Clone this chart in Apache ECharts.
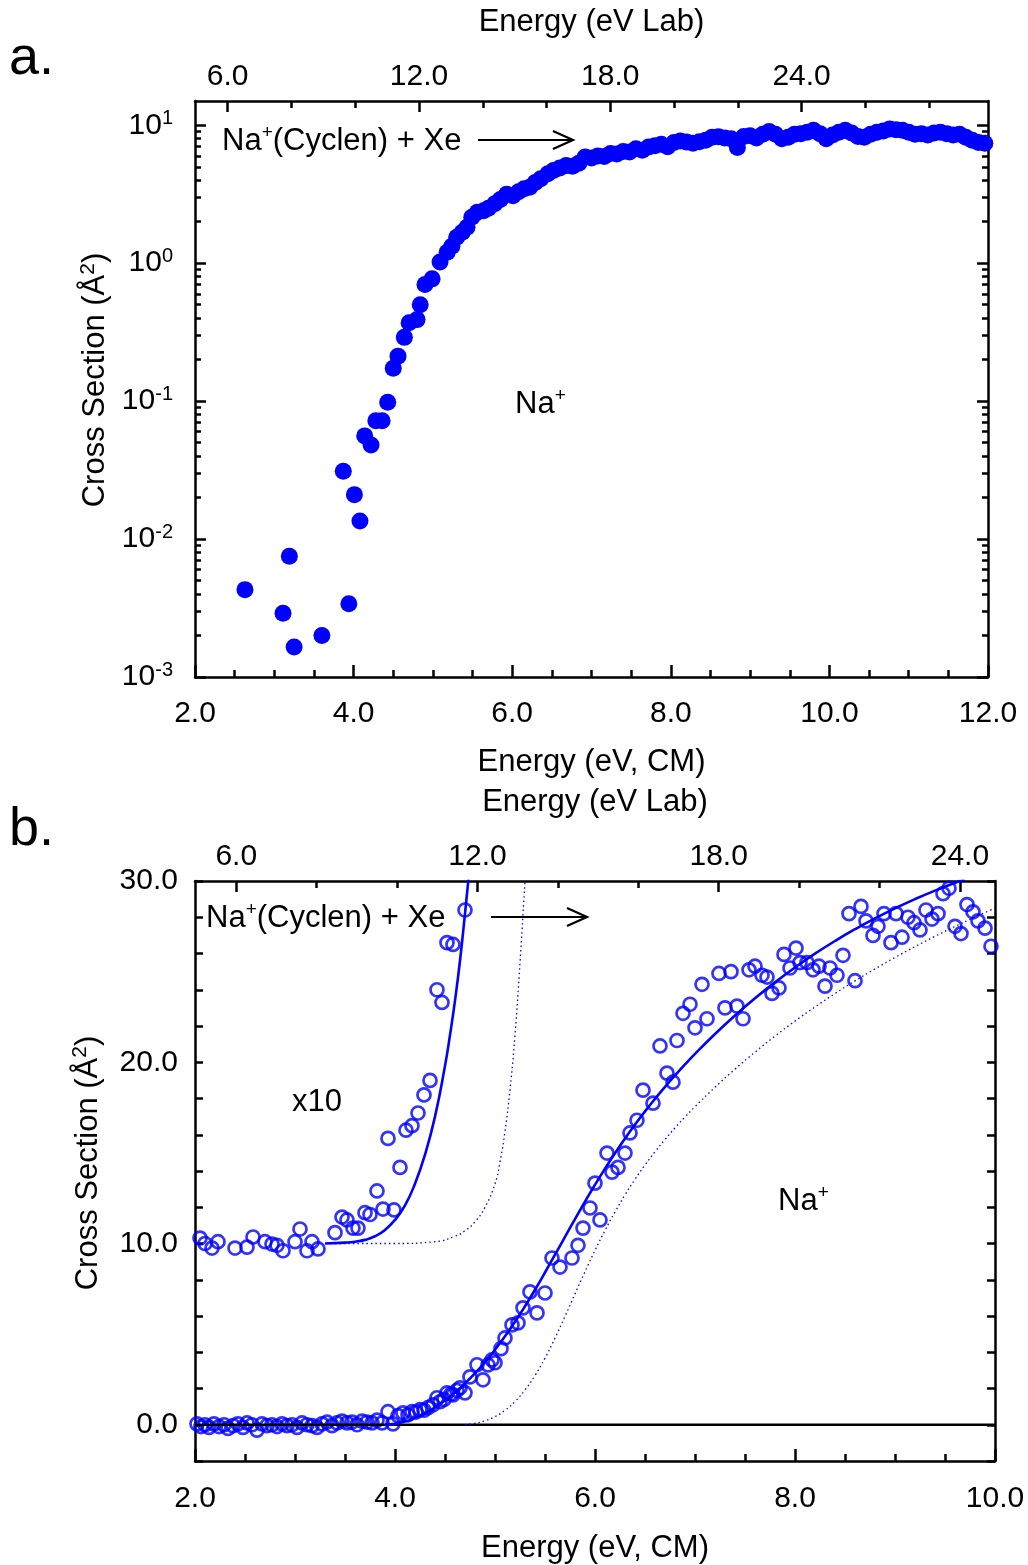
<!DOCTYPE html>
<html>
<head>
<meta charset="utf-8">
<script src="https://cdn.jsdelivr.net/npm/echarts@6/dist/echarts.min.js"></script>
<style>
  html, body { margin: 0; padding: 0; background: #ffffff; }
  #chart { width: 1028px; height: 1565px; }
</style>
</head>
<body>
<div id="chart"></div>
<script>
// Collision-induced dissociation of Na+(cyclen) with Xe: Na+ product cross sections.
const FONT = "'Liberation Sans', Arial, Helvetica, sans-serif";
const BLUE = '#0000ff';

// Lab -> CM energy factor: (m_ion + m_Xe) / m_Xe, Na+(cyclen) = 195.26 u, Xe = 131.29 u
const LAB_PER_CM = (195.26 + 131.29) / 131.29;

// ---------- panel a (log scale) ----------
const cmRangeA = [2, 12];
const sigmaRangeA = [0.001, 15];
const logDecadesA = [-3, -2, -1, 0, 1];
const labMajorTicks = [6, 12, 18, 24];
const labMinorTicksA = [8, 10, 14, 16, 20, 22, 26, 28];

// [E (eV, CM), cross section (Å²)]
const naPlusA = [
  [2.63, 0.0043], [3.11, 0.0029], [3.19, 0.0075], [3.25, 0.00165], [3.60, 0.0020],
  [3.87, 0.031], [3.94, 0.0034], [4.01, 0.021], [4.08, 0.0135], [4.14, 0.056],
  [4.22, 0.048], [4.28, 0.072], [4.36, 0.072], [4.43, 0.098], [4.50, 0.173],
  [4.56, 0.212], [4.64, 0.29], [4.70, 0.37], [4.80, 0.39], [4.84, 0.50],
  [4.90, 0.70], [4.99, 0.77], [5.09, 1.02], [5.18, 1.20], [5.24, 1.33],
  [5.30, 1.54], [5.37, 1.68], [5.43, 1.82], [5.49, 2.15], [5.56, 2.34],
  [5.64, 2.40], [5.70, 2.50], [5.78, 2.70], [5.85, 2.90], [5.93, 3.16],
  [6.01, 3.08], [6.08, 3.30], [6.15, 3.46], [6.22, 3.56], [6.29, 3.85],
  [6.36, 4.10], [6.45, 4.45], [6.52, 4.70], [6.60, 4.90], [6.68, 5.10],
  [6.76, 5.05], [6.84, 5.30], [6.92, 5.90], [7.00, 5.80], [7.08, 6.00],
  [7.16, 5.95], [7.24, 6.25], [7.32, 6.20], [7.40, 6.45], [7.48, 6.40],
  [7.56, 6.75], [7.64, 6.60], [7.72, 6.95], [7.80, 7.10], [7.88, 7.30],
  [7.96, 7.00], [8.04, 7.50], [8.12, 7.70], [8.20, 7.55], [8.28, 7.40],
  [8.36, 7.60], [8.44, 7.80], [8.52, 8.20], [8.60, 8.25], [8.68, 8.10],
  [8.76, 8.00], [8.84, 6.90], [8.92, 8.30], [9.00, 8.40], [9.08, 8.10],
  [9.16, 8.60], [9.24, 9.00], [9.32, 8.60], [9.40, 8.00], [9.48, 8.20],
  [9.56, 8.60], [9.64, 8.70], [9.72, 8.90], [9.80, 9.20], [9.88, 8.70],
  [9.96, 8.00], [10.04, 8.50], [10.12, 8.90], [10.20, 9.20], [10.28, 8.80],
  [10.36, 8.30], [10.44, 8.20], [10.52, 8.60], [10.60, 8.90], [10.68, 9.10],
  [10.76, 9.40], [10.84, 9.30], [10.92, 9.20], [11.00, 8.90], [11.08, 8.60],
  [11.16, 8.70], [11.24, 8.50], [11.32, 8.80], [11.40, 8.90], [11.48, 8.70],
  [11.56, 8.50], [11.64, 8.60], [11.72, 8.20], [11.80, 7.80], [11.88, 7.50],
  [11.96, 7.40]
];

// ---------- panel b (linear scale) ----------
const cmRangeB = [2, 10];
const sigmaRangeB = [-2, 30];
const sigmaLabelsB = [0, 10, 20, 30];
const labMinorTicksB = [8, 10, 14, 16, 20, 22];

const naPlusB = [
  [2.02, 0.05], [2.06, -0.10], [2.10, 0.00], [2.14, -0.15], [2.19, 0.05],
  [2.24, -0.10], [2.29, 0.00], [2.33, -0.20], [2.38, -0.05], [2.43, 0.05],
  [2.48, -0.15], [2.52, 0.10], [2.57, 0.00], [2.62, -0.30], [2.67, 0.05],
  [2.72, -0.05], [2.77, 0.00], [2.82, -0.10], [2.87, 0.05], [2.92, -0.05],
  [2.97, 0.00], [3.02, -0.15], [3.07, 0.10], [3.12, 0.00], [3.17, -0.05],
  [3.22, -0.15], [3.27, 0.05], [3.32, 0.15], [3.37, -0.05], [3.42, 0.10],
  [3.47, 0.20], [3.52, 0.10], [3.57, 0.15], [3.62, 0.00], [3.67, 0.20],
  [3.72, 0.15], [3.77, 0.10], [3.82, 0.25], [3.87, 0.10], [3.93, 0.72],
  [3.98, 0.05], [4.03, 0.50], [4.08, 0.66], [4.13, 0.55], [4.17, 0.72],
  [4.21, 0.70], [4.25, 0.83], [4.29, 0.80], [4.33, 0.94], [4.38, 1.10],
  [4.42, 1.49], [4.45, 1.27], [4.49, 1.40], [4.52, 1.76], [4.56, 1.70],
  [4.58, 1.65], [4.62, 1.90], [4.65, 2.04], [4.70, 1.76], [4.75, 2.64],
  [4.82, 3.31], [4.88, 2.48], [4.93, 3.30], [4.97, 3.58], [5.00, 3.42],
  [5.06, 4.20], [5.10, 4.79], [5.17, 5.51], [5.23, 5.62], [5.28, 6.45],
  [5.35, 7.33], [5.42, 6.17], [5.50, 7.27], [5.57, 9.20], [5.65, 8.70],
  [5.77, 9.20], [5.83, 9.90], [5.88, 10.85], [5.95, 11.96], [6.00, 13.33],
  [6.05, 11.30], [6.12, 14.99], [6.17, 13.94], [6.23, 14.20], [6.30, 14.99],
  [6.35, 16.10], [6.42, 16.80], [6.48, 18.46], [6.58, 17.74], [6.65, 20.90],
  [6.72, 19.40], [6.78, 18.90], [6.82, 21.20], [6.88, 22.70], [6.95, 23.20],
  [7.00, 21.90], [7.07, 24.30], [7.12, 22.40], [7.24, 24.90], [7.30, 23.00],
  [7.36, 25.00], [7.42, 23.10], [7.48, 22.40], [7.54, 25.10], [7.60, 25.30],
  [7.67, 24.80], [7.72, 24.70], [7.77, 23.80], [7.84, 24.10], [7.89, 25.95],
  [7.95, 25.20], [8.01, 26.30], [8.05, 25.50], [8.12, 25.50], [8.18, 25.10],
  [8.24, 25.30], [8.30, 24.20], [8.35, 25.20], [8.42, 24.80], [8.48, 25.90],
  [8.54, 28.20], [8.60, 24.50], [8.66, 28.60], [8.71, 27.80], [8.78, 27.00],
  [8.83, 27.50], [8.89, 28.20], [8.96, 26.60], [9.01, 28.20], [9.07, 26.90],
  [9.13, 28.00], [9.19, 27.70], [9.25, 27.30], [9.31, 28.40], [9.37, 27.90],
  [9.43, 28.20], [9.48, 29.30], [9.54, 29.60], [9.60, 27.50], [9.66, 27.10],
  [9.72, 28.70], [9.78, 28.30], [9.83, 27.80], [9.90, 27.40], [9.96, 26.40]
];

// threshold region expanded ten times, offset to 10
const naPlusB_x10 = [
  [2.05, 10.30], [2.10, 10.00], [2.17, 9.75], [2.23, 10.10], [2.40, 9.75],
  [2.52, 9.80], [2.58, 10.36], [2.70, 10.10], [2.77, 9.97], [2.82, 9.90],
  [2.88, 9.60], [3.00, 10.10], [3.05, 10.80], [3.12, 9.60], [3.17, 10.10],
  [3.23, 9.70], [3.40, 10.60], [3.47, 11.46], [3.52, 11.30], [3.58, 10.85],
  [3.63, 10.85], [3.70, 11.70], [3.75, 11.60], [3.82, 12.90], [3.88, 11.90],
  [3.93, 15.80], [3.99, 11.85], [4.05, 14.20], [4.11, 16.25], [4.17, 16.50],
  [4.23, 17.20], [4.29, 18.20], [4.35, 19.00], [4.42, 24.00], [4.47, 23.30],
  [4.52, 26.60], [4.58, 26.50], [4.70, 28.40]
];

// model cross sections convoluted over the experimental energy distribution
const modelB = [
  [3.90, 0.00], [4.00, 0.05], [4.10, 0.18], [4.20, 0.38], [4.30, 0.64],
  [4.40, 0.96], [4.50, 1.34], [4.60, 1.78], [4.70, 2.28], [4.80, 2.84],
  [4.90, 3.46], [5.00, 4.14], [5.10, 4.88], [5.20, 5.68], [5.30, 6.54],
  [5.40, 7.45], [5.50, 8.40], [5.60, 9.38], [5.70, 10.37], [5.80, 11.35],
  [5.90, 12.31], [6.00, 13.24], [6.10, 14.13], [6.20, 14.98], [6.30, 15.79],
  [6.40, 16.56], [6.50, 17.29], [6.60, 17.98], [6.70, 18.64], [6.80, 19.27],
  [6.90, 19.88], [7.00, 20.46], [7.20, 21.56], [7.40, 22.58], [7.60, 23.53],
  [7.80, 24.41], [8.00, 25.23], [8.20, 25.99], [8.40, 26.69], [8.60, 27.34],
  [8.80, 27.94], [9.00, 28.49], [9.20, 29.00], [9.40, 29.47], [9.60, 29.90],
  [9.70, 30.10]
];
const modelB_x10 = [
  [3.30, 10.00], [3.50, 10.05], [3.60, 10.10], [3.70, 10.20], [3.80, 10.40],
  [3.90, 10.75], [4.00, 11.30], [4.10, 12.10], [4.20, 13.30], [4.30, 14.90],
  [4.40, 17.00], [4.50, 19.80], [4.55, 21.50], [4.60, 23.40], [4.65, 25.60],
  [4.70, 28.20], [4.74, 30.40]
];
// unconvoluted model cross sections (0 K)
const model0K_B = [
  [4.70, 0.00], [4.80, 0.08], [4.90, 0.22], [5.00, 0.45], [5.10, 0.80],
  [5.20, 1.28], [5.30, 1.92], [5.40, 2.72], [5.50, 3.68], [5.60, 4.78],
  [5.70, 5.98], [5.80, 7.22], [5.90, 8.45], [6.00, 9.62], [6.10, 10.72],
  [6.20, 11.74], [6.30, 12.68], [6.40, 13.54], [6.50, 14.33], [6.60, 15.06],
  [6.70, 15.74], [6.80, 16.38], [6.90, 16.98], [7.00, 17.55], [7.20, 18.62],
  [7.40, 19.62], [7.60, 20.56], [7.80, 21.44], [8.00, 22.27], [8.20, 23.05],
  [8.40, 23.79], [8.60, 24.49], [8.80, 25.15], [9.00, 25.78], [9.20, 26.38],
  [9.40, 26.95], [9.60, 27.49], [9.80, 28.01], [10.00, 28.50]
];
const model0K_B_x10 = [
  [3.40, 10.00], [4.00, 10.00], [4.40, 10.10], [4.60, 10.40], [4.70, 10.70],
  [4.80, 11.20], [4.90, 12.00], [5.00, 13.30], [5.05, 14.50], [5.10, 16.20],
  [5.15, 18.50], [5.20, 21.50], [5.25, 25.50], [5.30, 30.00]
];
const zeroLineB = [[2, 0], [10, 0]];

// ---------- shared styles ----------
const BLACK = '#000000';
const lineStyle = { color: BLACK, width: 2.5 };
const boxLine = { show: true, onZero: false, lineStyle: lineStyle };
const noLine = { show: false, onZero: false };
const tickFont = { fontFamily: FONT, fontSize: 30, color: BLACK };
const fmt1 = v => Number(v).toFixed(1);

const nameRich = {
  n: { fontFamily: FONT, fontSize: 31, color: BLACK, lineHeight: 36 },
  s: { fontFamily: FONT, fontSize: 21, color: BLACK, lineHeight: 21, verticalAlign: 'top' }
};
const nameFont = { fontFamily: FONT, fontSize: 31, color: BLACK };
const sigmaName = '{n|Cross Section (Å}{s|2}{n|)}';

// log-spaced minor ticks (2..9 per decade) in log10 units
const logMinorTicksA = [];
for (let n = logDecadesA[0]; n < logDecadesA[logDecadesA.length - 1]; n++) {
  for (let k = 2; k <= 9; k++) logMinorTicksA.push(Math.log10(k) + n);
}
const logMaxA = Math.log10(sigmaRangeA[1]);
const logMinA = Math.log10(sigmaRangeA[0]);

const supRich = {
  b: { fontFamily: FONT, fontSize: 30, color: BLACK, lineHeight: 34 },
  s: { fontFamily: FONT, fontSize: 20, color: BLACK, lineHeight: 20, verticalAlign: 'top' }
};

function tickAxis(dim, grid, pos, min, max, ticks, len, extra) {
  return Object.assign({
    gridIndex: grid, type: 'value', position: pos, min: min, max: max,
    axisLine: noLine,
    axisTick: { show: true, inside: true, length: len, customValues: ticks, lineStyle: lineStyle },
    axisLabel: { show: false },
    splitLine: { show: false }
  }, extra || {});
}

const textRich = {
  n: { fontFamily: FONT, fontSize: 31, lineHeight: 35, fill: BLACK, color: BLACK },
  s: { fontFamily: FONT, fontSize: 19, lineHeight: 19, verticalAlign: 'top', fill: BLACK, color: BLACK }
};

const option = {
  backgroundColor: '#ffffff',
  animation: false,
  textStyle: { fontFamily: FONT },
  grid: [
    { left: 195, top: 101, width: 793, height: 576, outerBoundsMode: 'none', containLabel: false },
    { left: 195, top: 881, width: 800, height: 580, outerBoundsMode: 'none', containLabel: false }
  ],
  xAxis: [
    // 0: panel a, CM energy (bottom)
    {
      gridIndex: 0, type: 'value', position: 'bottom', min: cmRangeA[0], max: cmRangeA[1], interval: 2,
      axisLine: boxLine,
      axisTick: { show: true, inside: true, length: 12, lineStyle: lineStyle },
      minorTick: { show: true, splitNumber: 4, length: 7, lineStyle: lineStyle },
      axisLabel: Object.assign({ margin: 22, formatter: fmt1, showMinLabel: true, showMaxLabel: true }, tickFont),
      splitLine: { show: false }, minorSplitLine: { show: false },
      name: 'Energy (eV, CM)', nameLocation: 'middle', nameGap: 70, nameTextStyle: nameFont
    },
    // 1: panel a, Lab energy (top, major)
    tickAxis('x', 0, 'top', cmRangeA[0] * LAB_PER_CM, cmRangeA[1] * LAB_PER_CM, labMajorTicks, 11, {
      axisLine: boxLine,
      axisLabel: Object.assign({ show: true, margin: 9, customValues: labMajorTicks, formatter: fmt1 }, tickFont),
      name: 'Energy (eV Lab)', nameLocation: 'middle', nameGap: 63, nameTextStyle: nameFont
    }),
    // 2: panel a, Lab energy (top, minor)
    tickAxis('x', 0, 'top', cmRangeA[0] * LAB_PER_CM, cmRangeA[1] * LAB_PER_CM, labMinorTicksA, 7),
    // 3: panel b, CM energy (bottom)
    {
      gridIndex: 1, type: 'value', position: 'bottom', min: cmRangeB[0], max: cmRangeB[1], interval: 2,
      axisLine: boxLine,
      axisTick: { show: true, inside: true, length: 12, lineStyle: lineStyle },
      minorTick: { show: true, splitNumber: 4, length: 7, lineStyle: lineStyle },
      axisLabel: Object.assign({ margin: 23, formatter: fmt1, showMinLabel: true, showMaxLabel: true }, tickFont),
      splitLine: { show: false }, minorSplitLine: { show: false },
      name: 'Energy (eV, CM)', nameLocation: 'middle', nameGap: 72, nameTextStyle: nameFont
    },
    // 4: panel b, Lab energy (top, major)
    tickAxis('x', 1, 'top', cmRangeB[0] * LAB_PER_CM, cmRangeB[1] * LAB_PER_CM, labMajorTicks, 11, {
      axisLine: boxLine,
      axisLabel: Object.assign({ show: true, margin: 9, customValues: labMajorTicks, formatter: fmt1 }, tickFont),
      name: 'Energy (eV Lab)', nameLocation: 'middle', nameGap: 63, nameTextStyle: nameFont
    }),
    // 5: panel b, Lab energy (top, minor)
    tickAxis('x', 1, 'top', cmRangeB[0] * LAB_PER_CM, cmRangeB[1] * LAB_PER_CM, labMinorTicksB, 7)
  ],
  yAxis: [
    // 0: panel a, log cross-section scale carrying the data
    { gridIndex: 0, type: 'log', logBase: 10, min: sigmaRangeA[0], max: sigmaRangeA[1], show: false,
      axisLine: { onZero: false } },
    // 1: panel a, left decades with labels
    tickAxis('y', 0, 'left', logMinA, logMaxA, logDecadesA, 11, {
      axisLine: boxLine,
      axisLabel: {
        show: true, margin: 22, customValues: logDecadesA,
        formatter: v => '{b|10}{s|' + Math.round(v) + '}', rich: supRich
      },
      name: sigmaName, nameLocation: 'middle', nameGap: 68,
      nameTextStyle: Object.assign({ rich: nameRich, padding: [0, 0, 0, 18] }, nameFont)
    }),
    // 2: panel a, left minor ticks
    tickAxis('y', 0, 'left', logMinA, logMaxA, logMinorTicksA, 6),
    // 3: panel a, right decades
    tickAxis('y', 0, 'right', logMinA, logMaxA, logDecadesA, 11, { axisLine: boxLine }),
    // 4: panel a, right minor ticks
    tickAxis('y', 0, 'right', logMinA, logMaxA, logMinorTicksA, 6),
    // 5: panel b, left
    {
      gridIndex: 1, type: 'value', position: 'left', min: sigmaRangeB[0], max: sigmaRangeB[1], interval: 2,
      axisLine: boxLine,
      axisTick: { show: true, inside: true, length: 8, lineStyle: lineStyle },
      axisLabel: Object.assign({ margin: 17, customValues: sigmaLabelsB, formatter: fmt1 }, tickFont),
      splitLine: { show: false },
      name: sigmaName, nameLocation: 'middle', nameGap: 89,
      nameTextStyle: Object.assign({ rich: nameRich, padding: [0, 0, 0, 16] }, nameFont)
    },
    // 6: panel b, right
    {
      gridIndex: 1, type: 'value', position: 'right', min: sigmaRangeB[0], max: sigmaRangeB[1], interval: 2,
      axisLine: boxLine,
      axisTick: { show: true, inside: true, length: 8, lineStyle: lineStyle },
      axisLabel: { show: false },
      splitLine: { show: false }
    }
  ],
  series: [
    {
      name: 'Na+ (a)', type: 'scatter', xAxisIndex: 0, yAxisIndex: 0,
      data: naPlusA, symbol: 'circle', symbolSize: 17,
      itemStyle: { color: BLUE, opacity: 1 }
    },
    {
      name: 'zero', type: 'line', xAxisIndex: 3, yAxisIndex: 5, data: zeroLineB,
      showSymbol: false, symbol: 'none', lineStyle: { color: BLACK, width: 2.5 }
    },
    {
      name: 'model 0 K', type: 'line', xAxisIndex: 3, yAxisIndex: 5, data: model0K_B,
      symbol: 'none', smooth: true,
      lineStyle: { color: BLUE, width: 1.3, type: [1.5, 3] }
    },
    {
      name: 'model 0 K x10', type: 'line', xAxisIndex: 3, yAxisIndex: 5, data: model0K_B_x10,
      symbol: 'none', smooth: true,
      lineStyle: { color: BLUE, width: 1.3, type: [1.5, 3] }
    },
    {
      name: 'model', type: 'line', xAxisIndex: 3, yAxisIndex: 5, data: modelB,
      symbol: 'none', smooth: true,
      lineStyle: { color: BLUE, width: 2.6 }
    },
    {
      name: 'model x10', type: 'line', xAxisIndex: 3, yAxisIndex: 5, data: modelB_x10,
      symbol: 'none', smooth: true,
      lineStyle: { color: BLUE, width: 2.6 }
    },
    {
      name: 'Na+ (b)', type: 'scatter', xAxisIndex: 3, yAxisIndex: 5, data: naPlusB,
      symbol: 'circle', symbolSize: 13,
      itemStyle: { color: 'transparent', borderColor: BLUE, borderWidth: 2.7 }
    },
    {
      name: 'Na+ x10 (b)', type: 'scatter', xAxisIndex: 3, yAxisIndex: 5, data: naPlusB_x10,
      symbol: 'circle', symbolSize: 13,
      itemStyle: { color: 'transparent', borderColor: BLUE, borderWidth: 2.7 }
    }
  ],
  graphic: [
    { type: 'text', left: 9, top: 32, style: { text: 'a.', font: '54px ' + FONT, fill: BLACK } },
    { type: 'text', left: 9, top: 803, style: { text: 'b.', font: '54px ' + FONT, fill: BLACK } },
    { type: 'text', x: 222, y: 141, style: { text: '{n|Na}{s|+}{n|(Cyclen) + Xe}', verticalAlign: 'middle', rich: textRich } },
    { type: 'line', shape: { x1: 478, y1: 140, x2: 573, y2: 140 }, style: { stroke: BLACK, lineWidth: 2.2 } },
    { type: 'polyline', shape: { points: [[553, 131], [573, 140], [553, 149]] }, style: { stroke: BLACK, lineWidth: 2.2, fill: null } },
    { type: 'text', x: 515, y: 404, style: { text: '{n|Na}{s|+}', verticalAlign: 'middle', rich: textRich } },
    { type: 'text', x: 206, y: 918, style: { text: '{n|Na}{s|+}{n|(Cyclen) + Xe}', verticalAlign: 'middle', rich: textRich } },
    { type: 'line', shape: { x1: 491, y1: 917, x2: 587, y2: 917 }, style: { stroke: BLACK, lineWidth: 2.2 } },
    { type: 'polyline', shape: { points: [[567, 908], [587, 917], [567, 926]] }, style: { stroke: BLACK, lineWidth: 2.2, fill: null } },
    { type: 'text', x: 292, y: 1102, style: { text: 'x10', font: '31px ' + FONT, fill: BLACK, verticalAlign: 'middle' } },
    { type: 'text', x: 778, y: 1201, style: { text: '{n|Na}{s|+}', verticalAlign: 'middle', rich: textRich } }
  ]
};

const chart = echarts.init(document.getElementById('chart'), null, { renderer: 'canvas', width: 1028, height: 1565 });
chart.setOption(option);
</script>
</body>
</html>
